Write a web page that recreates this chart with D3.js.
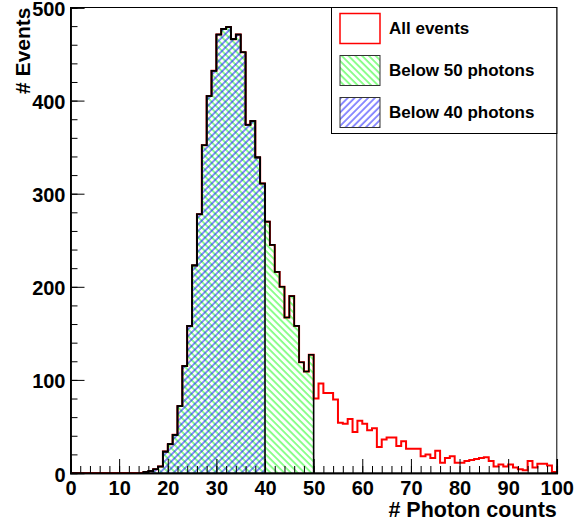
<!DOCTYPE html>
<html lang="en">
<head>
<meta charset="utf-8">
<title>Photon counts</title>
<script src="https://cdn.jsdelivr.net/npm/d3@7"></script>
<style>
  body { margin: 0; background: #fff; }
  text { font-family: "Liberation Sans", Arial, Helvetica, sans-serif; font-weight: bold; }
</style>
</head>
<body>
<script>
    // histogram contents, one entry per bin of width 1 from 0 to 100
    var allEvents = [
        0, 0, 0, 0, 0, 0, 0, 0, 0, 0,
        0, 0, 0, 0, 0, 1, 2, 4, 7, 23,
        31, 41, 72, 115, 158, 223, 278, 352, 405, 432,
        471, 477, 479, 466, 471, 452, 374, 378, 339, 311,
        270, 245, 216, 200, 167, 190, 158, 119, 109, 127,
        80, 96, 86, 86, 79, 54, 53, 58, 44, 56,
        53, 46, 48, 28, 36, 38, 38, 29, 34, 26,
        26, 26, 18, 20, 16, 24, 11, 16, 18, 11,
        11, 13, 14, 15, 16, 17, 13, 7, 9, 7,
        9, 6, 4, 3, 13, 6, 10, 10, 8, 1
    ];
    var cuts = [50, 40];
    var legendLabels = ["All events", "Below 50 photons", "Below 40 photons"];
    var xTicks = [0, 10, 20, 30, 40, 50, 60, 70, 80, 90, 100];
    var yTicks = [0, 100, 200, 300, 400, 500];

    var width = 574;
    var height = 527;

    var x = d3.scaleLinear().domain([0, 100]).range([70.5, 556.8]);
    var y = d3.scaleLinear().domain([0, 500]).range([473, 7.5]);

    var svg = d3.select("body").append("svg")
        .attr("width", width)
        .attr("height", height);

    // hatch patterns (ROOT 3005 green, 3004 blue)
    var defs = svg.append("defs");
    function hatch(id, color, angle) {
        var p = defs.append("pattern")
            .attr("id", id)
            .attr("patternUnits", "userSpaceOnUse")
            .attr("width", 4.8)
            .attr("height", 10)
            .attr("patternTransform", "rotate(" + angle + ")");
        p.append("line")
            .attr("x1", 1).attr("y1", 0)
            .attr("x2", 1).attr("y2", 10)
            .attr("stroke", color)
            .attr("stroke-width", 0.9);
    }
    hatch("hatchGreen", "#00ff00", -45);
    hatch("hatchBlue", "#0000ff", 45);

    // step outline from bin lo to bin hi
    function stepPath(values, lo, hi) {
        var d = "M" + x(lo) + "," + y(0);
        for (var i = lo; i < hi; i++) {
            d += "L" + x(i) + "," + y(values[i]) + "L" + x(i + 1) + "," + y(values[i]);
        }
        d += "L" + x(hi) + "," + y(0);
        return d;
    }

    var first = allEvents.findIndex(function (v) { return v > 0; });

    // all events (red)
    svg.append("path")
        .attr("d", stepPath(allEvents, 0, 100))
        .attr("fill", "none")
        .attr("stroke", "#ff0000")
        .attr("stroke-width", 2);

    var fills = ["url(#hatchGreen)", "url(#hatchBlue)"];
    cuts.forEach(function (c, k) {
        svg.append("path")
            .attr("d", stepPath(allEvents, first, c))
            .attr("fill", fills[k])
            .attr("stroke", "none");
    });
    cuts.forEach(function (c) {
        svg.append("path")
            .attr("d", stepPath(allEvents, first, c))
            .attr("fill", "none")
            .attr("stroke", "#000")
            .attr("stroke-width", 1.6);
    });

    // frame
    svg.append("rect")
        .attr("x", x(0))
        .attr("y", y(500))
        .attr("width", x(100) - x(0))
        .attr("height", y(0) - y(500))
        .attr("fill", "none")
        .attr("stroke", "#000")
        .attr("stroke-width", 1);

    // axes, ticks pointing into the frame
    svg.append("g")
        .attr("transform", "translate(0," + y(0) + ")")
        .call(d3.axisBottom(x).tickValues(xTicks).tickSize(-14).tickPadding(8));
    svg.append("g")
        .attr("transform", "translate(0," + y(0) + ")")
        .call(d3.axisBottom(x).tickValues(d3.range(0, 101, 2)).tickSize(-7).tickFormat(""));
    var yAxis = svg.append("g")
        .attr("transform", "translate(" + x(0) + ",0)")
        .call(d3.axisLeft(y).tickValues(yTicks).tickSize(-14).tickPadding(5));
    svg.append("g")
        .attr("transform", "translate(" + x(0) + ",0)")
        .call(d3.axisLeft(y).tickValues(d3.range(0, 501, 20)).tickSize(-7).tickFormat(""));

    svg.selectAll(".domain").attr("stroke", "#000").attr("stroke-width", 1.5);
    svg.selectAll(".tick line").attr("stroke", "#000");
    svg.selectAll(".tick text")
        .attr("fill", "#000")
        .style("font-size", "20px")
        .style("font-family", "'Liberation Sans', Arial, sans-serif")
        .style("font-weight", "bold");
    yAxis.selectAll(".tick text").attr("dy", "0.4em");

    svg.append("text")
        .attr("text-anchor", "end")
        .attr("x", x(100))
        .attr("y", 517)
        .style("font-size", "21.5px")
        .text("# Photon counts");

    svg.append("text")
        .attr("text-anchor", "end")
        .attr("transform", "translate(30," + y(500) + ") rotate(-90)")
        .style("font-size", "21px")
        .text("# Events");

    // legend
    var legend = svg.append("g");
    legend.append("rect")
        .attr("x", 331.5)
        .attr("y", 7.5)
        .attr("width", x(100) - 331.5)
        .attr("height", 126)
        .attr("fill", "#fff")
        .attr("stroke", "#000")
        .attr("stroke-width", 1);

    var boxFill = ["#fff", "url(#hatchGreen)", "url(#hatchBlue)"];
    var boxStroke = ["#ff0000", "#333", "#333"];
    var item = legend.selectAll(".item")
        .data(legendLabels)
        .enter().append("g")
        .attr("class", "item")
        .attr("transform", function (d, i) {
            return "translate(340," + (13.5 + i * 42) + ")";
        });
    item.append("rect")
        .attr("width", 40)
        .attr("height", 30)
        .attr("fill", function (d, i) { return boxFill[i]; })
        .attr("stroke", function (d, i) { return boxStroke[i]; })
        .attr("stroke-width", function (d, i) { return i == 0 ? 1.5 : 1; });
    item.append("text")
        .attr("x", 49)
        .attr("y", 15)
        .attr("dy", "0.35em")
        .style("font-size", "17px")
        .text(function (d) { return d; });
</script>
</body>
</html>
